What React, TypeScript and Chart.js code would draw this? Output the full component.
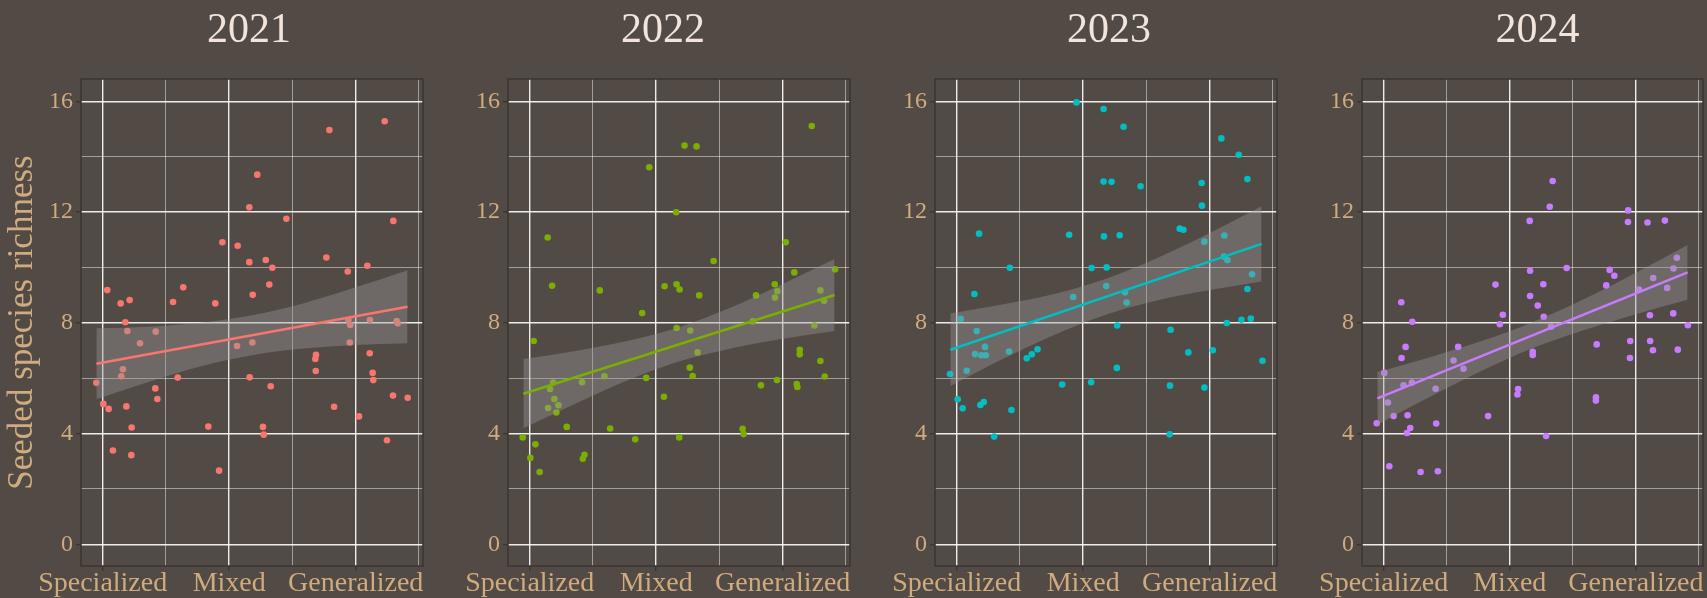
import React, { useEffect, useRef } from 'react';
import { Chart, registerables } from 'chart.js';

Chart.register(...registerables);

// ---- data -------------------------------------------------------------
const YEARS = ['2021', '2022', '2023', '2024'];
const COLORS = ['#F8766D', '#7CAE00', '#00BFC4', '#C77CFF'];

const X_BREAKS = [1, 2, 3];
const X_LABELS = ['Specialized', 'Mixed', 'Generalized'];
const X_MINOR = [1.5, 2.5, 3.5];
const Y_BREAKS = [0, 4, 8, 12, 16];
const Y_MINOR = [2, 6, 10, 14];

const X_2021 = [1.036, 1.142, 1.213, 1.179, 1.195, 1.419, 1.295, 1.556, 1.637, 1.89, 1.946, 2.067, 2.159, 2.222, 2.159, 2.289, 2.341, 2.186, 2.317, 2.452, 2.792, 3.229, 3.297, 2.768, 2.937, 3.092, 2.942, 2.957, 3.113, 3.324, 3.332, 2.953, 0.949, 1.005, 1.047, 1.081, 1.147, 1.16, 1.187, 1.229, 1.226, 1.416, 1.432, 1.593, 1.835, 1.92, 2.062, 2.183, 2.162, 2.328, 2.267, 2.273, 2.686, 2.681, 2.684, 2.829, 3.026, 3.111, 3.134, 3.139, 3.247, 3.295, 3.411];
const Y_2021 = [9.18, 8.7, 8.82, 8.02, 7.7, 7.68, 7.26, 8.75, 9.28, 8.7, 10.91, 10.78, 12.17, 13.35, 10.19, 10.27, 9.99, 9.01, 9.38, 11.76, 14.96, 15.28, 11.68, 10.36, 9.85, 10.06, 8.1, 7.92, 8.1, 8.06, 7.98, 7.29, 5.83, 5.07, 4.89, 3.39, 6.07, 6.32, 4.98, 4.22, 3.22, 5.63, 5.25, 6.02, 4.25, 2.66, 7.16, 7.29, 6.03, 5.71, 4.24, 3.96, 6.84, 6.69, 6.26, 4.97, 4.62, 6.9, 6.19, 5.93, 3.76, 5.37, 5.29];

const X_2022 = [3.23, 2.224, 2.319, 1.945, 2.158, 1.142, 3.024, 2.454, 3.092, 3.414, 1.177, 1.554, 2.066, 2.161, 2.185, 2.34, 2.937, 2.958, 2.939, 2.789, 3.298, 3.327, 1.889, 2.161, 2.269, 2.765, 3.251, 1.032, 2.327, 3.135, 3.135, 3.298, 3.332, 2.266, 2.288, 1.921, 1.591, 1.414, 1.185, 1.161, 1.195, 1.227, 1.211, 1.145, 2.061, 2.828, 2.955, 3.111, 3.116, 1.293, 1.636, 0.945, 1.045, 1.005, 1.079, 1.42, 1.433, 1.834, 2.182, 2.683, 2.691];
const Y_2022 = [15.11, 14.4, 14.37, 13.62, 11.99, 11.08, 10.91, 10.23, 9.82, 9.93, 9.34, 9.17, 9.32, 9.39, 9.2, 8.99, 9.39, 9.14, 8.91, 8.99, 9.17, 8.8, 8.35, 7.81, 7.72, 8.05, 7.9, 7.34, 6.93, 7.02, 6.86, 6.62, 6.06, 6.38, 6.08, 6.01, 6.07, 5.85, 5.84, 5.61, 5.25, 5.02, 4.76, 4.92, 5.33, 5.74, 5.93, 5.79, 5.68, 4.24, 4.18, 3.86, 3.61, 3.12, 2.61, 3.09, 3.23, 3.79, 3.86, 4.17, 3.98];

const X_2023 = [1.947, 2.161, 2.319, 3.092, 3.23, 3.298, 2.161, 2.224, 2.454, 2.937, 2.939, 1.177, 1.889, 2.164, 2.288, 2.763, 2.792, 3.116, 2.958, 3.113, 3.14, 1.42, 2.066, 2.185, 3.335, 3.298, 2.182, 2.33, 2.343, 1.921, 1.14, 1.032, 1.158, 2.269, 2.691, 3.135, 3.251, 3.325, 1.224, 1.145, 1.195, 1.23, 1.414, 1.079, 0.947, 1.554, 1.594, 1.639, 2.831, 3.024, 3.417, 2.266, 1.834, 2.063, 2.686, 2.958, 1.008, 1.047, 1.187, 1.214, 1.433, 1.296, 2.683];
const Y_2023 = [15.96, 15.72, 15.08, 14.66, 14.07, 13.19, 13.1, 13.09, 12.93, 13.05, 12.23, 11.22, 11.18, 11.12, 11.16, 11.4, 11.36, 11.15, 10.93, 10.39, 10.27, 9.99, 9.98, 10.0, 9.75, 9.22, 9.33, 9.1, 8.73, 8.93, 9.04, 8.14, 7.7, 7.9, 7.75, 7.99, 8.11, 8.15, 7.13, 6.87, 6.83, 6.83, 6.96, 6.27, 6.15, 6.72, 6.86, 7.04, 6.93, 7.01, 6.63, 6.37, 5.77, 5.85, 5.73, 5.66, 5.24, 4.91, 5.03, 5.14, 4.85, 3.89, 3.97];

const X_2024 = [2.34, 2.317, 2.158, 2.939, 2.937, 3.092, 3.23, 3.325, 3.298, 3.137, 3.248, 3.024, 2.451, 2.161, 2.792, 2.829, 2.765, 2.266, 1.887, 2.161, 2.222, 2.269, 2.327, 1.945, 1.921, 1.14, 1.227, 3.111, 3.296, 3.412, 2.955, 3.113, 1.174, 1.142, 1.591, 1.554, 1.633, 1.005, 1.158, 1.224, 1.412, 1.034, 1.079, 0.945, 1.19, 1.211, 1.185, 1.417, 1.828, 2.061, 2.066, 2.182, 2.182, 2.288, 2.689, 3.135, 3.332, 2.953, 2.683, 2.683, 1.045, 1.293, 1.43];
const Y_2024 = [13.12, 12.19, 11.68, 12.06, 11.64, 11.62, 11.69, 10.35, 9.96, 9.62, 9.26, 9.2, 9.98, 9.88, 9.91, 9.7, 9.35, 9.39, 9.38, 8.97, 8.62, 8.22, 7.86, 8.29, 7.95, 8.74, 8.04, 8.27, 8.34, 7.91, 7.34, 7.34, 7.13, 6.73, 7.13, 6.64, 6.34, 6.19, 5.74, 5.84, 5.62, 5.12, 4.63, 4.37, 4.66, 4.2, 4.02, 4.36, 4.63, 5.41, 5.61, 6.95, 6.84, 3.91, 7.22, 7.01, 7.03, 6.73, 5.31, 5.19, 2.82, 2.61, 2.64];

// fitted linear trend (end points) and its confidence band
const FIT_X = [0.95, 3.41];
const FIT_2021 = [6.52, 8.58];
const FIT_2022 = [5.44, 9.0];
const FIT_2023 = [7.03, 10.85];
const FIT_2024 = [5.27, 9.82];

const BAND_X = [0.95, 1.36, 1.77, 2.18, 2.59, 3.0, 3.41];
const UPPER_2021 = [7.8, 7.86, 8.0, 8.27, 8.71, 9.28, 9.9];
const LOWER_2021 = [5.24, 5.86, 6.42, 6.83, 7.07, 7.2, 7.26];
const UPPER_2022 = [6.69, 6.98, 7.34, 7.84, 8.55, 9.4, 10.3];
const LOWER_2022 = [4.19, 5.08, 5.92, 6.6, 7.07, 7.42, 7.7];
const UPPER_2023 = [8.34, 8.66, 9.04, 9.59, 10.35, 11.24, 12.21];
const LOWER_2023 = [5.72, 6.68, 7.56, 8.29, 8.81, 9.18, 9.49];
const UPPER_2024 = [6.22, 6.75, 7.33, 8.02, 8.86, 9.81, 10.81];
const LOWER_2024 = [4.32, 5.31, 6.25, 7.08, 7.74, 8.31, 8.83];

const SERIES = [
  { xs: X_2021, ys: Y_2021, fit: FIT_2021, upper: UPPER_2021, lower: LOWER_2021 },
  { xs: X_2022, ys: Y_2022, fit: FIT_2022, upper: UPPER_2022, lower: LOWER_2022 },
  { xs: X_2023, ys: Y_2023, fit: FIT_2023, upper: UPPER_2023, lower: LOWER_2023 },
  { xs: X_2024, ys: Y_2024, fit: FIT_2024, upper: UPPER_2024, lower: LOWER_2024 },
];

// ---- look & layout ----------------------------------------------------
const PAGE_W = 1707;
const PAGE_H = 598;
const PANEL_STEP = 427;
const AREA_LEFT = 81;
const AREA_RIGHT = 423;
const AREA_TOP = 79;
const AREA_BOTTOM = 566;
const TITLE_SHIFT = [-3, -16, 3, 5];

const X_MIN = 0.8285;
const X_MAX = 3.532;
const Y_MIN = -0.784;
const Y_MAX = 16.805;

const BG = '#524a45';
const TAN = '#cfab7f';
const TITLE_COLOR = '#f1e4da';
const FRAME = '#3b3632';
const MAJOR = 'rgba(255,255,255,0.9)';
const MINOR = 'rgba(255,255,255,0.52)';
const BAND_FILL = 'rgba(153,153,153,0.4)';
const FONT = '"Liberation Serif", "Times New Roman", serif';

const sortNum = (a: number, b: number) => a - b;

const gridFor = (breaks: number[]) => ({
  color: (c: any) => (breaks.includes(c.tick?.value) ? MAJOR : MINOR),
  lineWidth: (c: any) => (breaks.includes(c.tick?.value) ? 1.4 : 0.9),
  tickColor: (c: any) => (breaks.includes(c.tick?.value) ? FRAME : 'rgba(0,0,0,0)'),
  tickWidth: 1.4,
  tickLength: 5,
  drawTicks: true,
});

function Panel({ index }: { index: number }) {
  const ref = useRef<HTMLCanvasElement | null>(null);
  const width = Math.min(PANEL_STEP, PAGE_W - index * PANEL_STEP);

  useEffect(() => {
    if (!ref.current) return;
    const s = SERIES[index];
    const color = COLORS[index];
    const year = YEARS[index];

    const framePlugin = {
      id: 'panelFrame',
      afterDraw(chart: any) {
        const { ctx, chartArea: a } = chart;
        ctx.save();
        ctx.strokeStyle = FRAME;
        ctx.lineWidth = 1.5;
        ctx.strokeRect(a.left, a.top, a.right - a.left, a.bottom - a.top);
        ctx.fillStyle = TITLE_COLOR;
        ctx.font = `42px ${FONT}`;
        ctx.textAlign = 'center';
        ctx.textBaseline = 'alphabetic';
        ctx.fillText(year, (a.left + a.right) / 2 + TITLE_SHIFT[index], 41.7);
        ctx.restore();
      },
    };

    const chart = new Chart(ref.current, {
      type: 'scatter',
      data: {
        datasets: [
          {
            type: 'line',
            data: FIT_X.map((x, i) => ({ x, y: s.fit[i] })),
            borderColor: color,
            borderWidth: 2.6,
            pointRadius: 0,
            fill: false,
            order: 0,
          },
          {
            type: 'line',
            data: BAND_X.map((x, i) => ({ x, y: s.upper[i] })),
            borderWidth: 0,
            borderColor: 'rgba(0,0,0,0)',
            backgroundColor: BAND_FILL,
            pointRadius: 0,
            fill: '+1',
            cubicInterpolationMode: 'monotone',
            order: 1,
          },
          {
            type: 'line',
            data: BAND_X.map((x, i) => ({ x, y: s.lower[i] })),
            borderWidth: 0,
            borderColor: 'rgba(0,0,0,0)',
            pointRadius: 0,
            fill: false,
            cubicInterpolationMode: 'monotone',
            order: 2,
          },
          {
            type: 'scatter',
            data: s.xs.map((x, i) => ({ x, y: s.ys[i] })),
            backgroundColor: color,
            borderWidth: 0,
            pointRadius: 3.3,
            order: 3,
          },
        ],
      } as any,
      options: {
        responsive: false,
        animation: false,
        devicePixelRatio: 1,
        events: [],
        layout: { padding: { left: 0, top: AREA_TOP, right: width - AREA_RIGHT, bottom: 0 } },
        plugins: {
          legend: { display: false },
          tooltip: { enabled: false },
          title: { display: false },
        },
        scales: {
          x: {
            type: 'linear',
            min: X_MIN,
            max: X_MAX,
            afterBuildTicks: (sc: any) => {
              sc.ticks = [...X_BREAKS, ...X_MINOR].sort(sortNum).map((v) => ({ value: v }));
            },
            afterFit: (sc: any) => {
              sc.height = PAGE_H - AREA_BOTTOM;
              sc.paddingLeft = 0;
              sc.paddingRight = 0;
            },
            ticks: {
              autoSkip: false,
              maxRotation: 0,
              minRotation: 0,
              padding: -4.5,
              color: TAN,
              font: { family: FONT, size: 28 },
              callback: (v: any) => {
                const k = X_BREAKS.indexOf(Number(v));
                return k >= 0 ? X_LABELS[k] : '';
              },
            },
            grid: gridFor(X_BREAKS),
            border: { display: false },
          },
          y: {
            type: 'linear',
            min: Y_MIN,
            max: Y_MAX,
            afterBuildTicks: (sc: any) => {
              sc.ticks = [...Y_BREAKS, ...Y_MINOR].sort(sortNum).map((v) => ({ value: v }));
            },
            afterFit: (sc: any) => {
              sc.width = AREA_LEFT;
              sc.paddingTop = 0;
              sc.paddingBottom = 0;
            },
            ticks: {
              autoSkip: false,
              padding: 3,
              color: TAN,
              font: { family: FONT, size: 24 },
              callback: (v: any) => (Y_BREAKS.includes(Number(v)) ? String(v) : ''),
            },
            grid: gridFor(Y_BREAKS),
            border: { display: false },
            title: {
              display: index === 0,
              text: 'Seeded species richness',
              color: TAN,
              font: { family: FONT, size: 35 },
              padding: { top: 2, bottom: 0 },
            },
          },
        },
      } as any,
      plugins: [framePlugin],
    });

    return () => chart.destroy();
  }, [index, width]);

  return (
    <canvas
      ref={ref}
      width={width}
      height={PAGE_H}
      style={{ position: 'absolute', left: index * PANEL_STEP, top: 0, width, height: PAGE_H }}
    />
  );
}

export default function App() {
  return (
    <div
      style={{
        position: 'absolute',
        left: 0,
        top: 0,
        width: PAGE_W,
        height: PAGE_H,
        background: BG,
        overflow: 'hidden',
      }}
    >
      {YEARS.map((y, i) => (
        <Panel key={y} index={i} />
      ))}
    </div>
  );
}
